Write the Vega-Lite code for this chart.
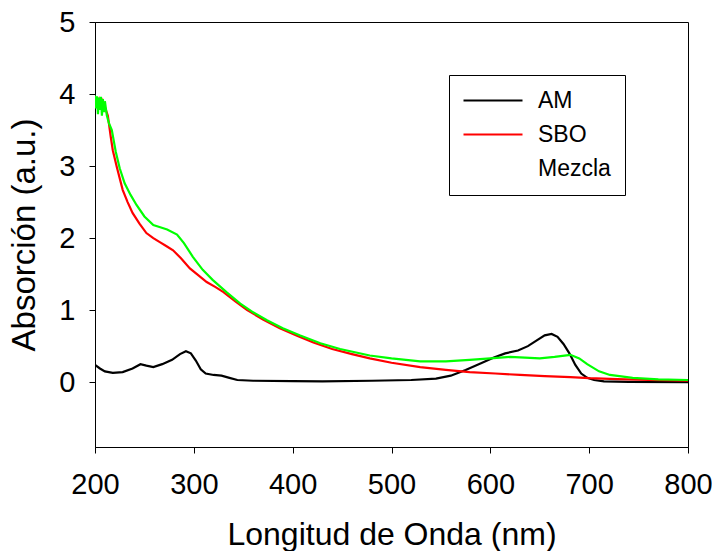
{
  "$schema": "https://vega.github.io/schema/vega-lite/v6.json",
  "width": 593,
  "height": 425,
  "autosize": {"type": "none"},
  "padding": {"left": 95, "top": 22, "right": 24, "bottom": 104},
  "background": "white",
  "config": {
    "view": {"stroke": "black", "strokeWidth": 1},
    "font": "Liberation Sans",
    "axis": {
      "grid": false,
      "domainColor": "black",
      "tickColor": "black",
      "tickSize": 6,
      "labelFont": "Liberation Sans",
      "labelFontSize": 29,
      "labelColor": "black",
      "titleFont": "Liberation Sans",
      "titleFontWeight": "normal",
      "titleColor": "black"
    }
  },
  "datasets": {
    "spectra": [
      {"serie": "AM", "lambda": 200, "abs": 0.24},
      {"serie": "AM", "lambda": 205, "abs": 0.19},
      {"serie": "AM", "lambda": 210, "abs": 0.15},
      {"serie": "AM", "lambda": 218, "abs": 0.13},
      {"serie": "AM", "lambda": 228, "abs": 0.14},
      {"serie": "AM", "lambda": 238, "abs": 0.19},
      {"serie": "AM", "lambda": 246, "abs": 0.25},
      {"serie": "AM", "lambda": 252, "abs": 0.23},
      {"serie": "AM", "lambda": 259, "abs": 0.21},
      {"serie": "AM", "lambda": 268, "abs": 0.25},
      {"serie": "AM", "lambda": 278, "abs": 0.31},
      {"serie": "AM", "lambda": 286, "abs": 0.39},
      {"serie": "AM", "lambda": 292, "abs": 0.43},
      {"serie": "AM", "lambda": 297, "abs": 0.40},
      {"serie": "AM", "lambda": 302, "abs": 0.30},
      {"serie": "AM", "lambda": 307, "abs": 0.18},
      {"serie": "AM", "lambda": 312, "abs": 0.12},
      {"serie": "AM", "lambda": 320, "abs": 0.10},
      {"serie": "AM", "lambda": 328, "abs": 0.09},
      {"serie": "AM", "lambda": 336, "abs": 0.06},
      {"serie": "AM", "lambda": 344, "abs": 0.03},
      {"serie": "AM", "lambda": 360, "abs": 0.02},
      {"serie": "AM", "lambda": 400, "abs": 0.015},
      {"serie": "AM", "lambda": 430, "abs": 0.01},
      {"serie": "AM", "lambda": 480, "abs": 0.02},
      {"serie": "AM", "lambda": 520, "abs": 0.03},
      {"serie": "AM", "lambda": 545, "abs": 0.05},
      {"serie": "AM", "lambda": 560, "abs": 0.09},
      {"serie": "AM", "lambda": 575, "abs": 0.17},
      {"serie": "AM", "lambda": 590, "abs": 0.26},
      {"serie": "AM", "lambda": 603, "abs": 0.34},
      {"serie": "AM", "lambda": 615, "abs": 0.40},
      {"serie": "AM", "lambda": 628, "abs": 0.44},
      {"serie": "AM", "lambda": 638, "abs": 0.50},
      {"serie": "AM", "lambda": 647, "abs": 0.58},
      {"serie": "AM", "lambda": 655, "abs": 0.65},
      {"serie": "AM", "lambda": 662, "abs": 0.67},
      {"serie": "AM", "lambda": 668, "abs": 0.63},
      {"serie": "AM", "lambda": 674, "abs": 0.53},
      {"serie": "AM", "lambda": 680, "abs": 0.40},
      {"serie": "AM", "lambda": 686, "abs": 0.24},
      {"serie": "AM", "lambda": 692, "abs": 0.12},
      {"serie": "AM", "lambda": 698, "abs": 0.06},
      {"serie": "AM", "lambda": 705, "abs": 0.03},
      {"serie": "AM", "lambda": 715, "abs": 0.01},
      {"serie": "AM", "lambda": 740, "abs": 0.005},
      {"serie": "AM", "lambda": 800, "abs": 0.0},
      {"serie": "SBO", "lambda": 200, "abs": 3.95},
      {"serie": "SBO", "lambda": 202, "abs": 3.85},
      {"serie": "SBO", "lambda": 204, "abs": 3.92},
      {"serie": "SBO", "lambda": 206, "abs": 3.8},
      {"serie": "SBO", "lambda": 208, "abs": 3.9},
      {"serie": "SBO", "lambda": 210, "abs": 3.82},
      {"serie": "SBO", "lambda": 213, "abs": 3.7},
      {"serie": "SBO", "lambda": 216, "abs": 3.4},
      {"serie": "SBO", "lambda": 218, "abs": 3.22},
      {"serie": "SBO", "lambda": 222, "abs": 2.99},
      {"serie": "SBO", "lambda": 228, "abs": 2.67},
      {"serie": "SBO", "lambda": 233, "abs": 2.5},
      {"serie": "SBO", "lambda": 238, "abs": 2.35},
      {"serie": "SBO", "lambda": 245, "abs": 2.2},
      {"serie": "SBO", "lambda": 252, "abs": 2.07},
      {"serie": "SBO", "lambda": 259, "abs": 2.0},
      {"serie": "SBO", "lambda": 266, "abs": 1.94},
      {"serie": "SBO", "lambda": 272, "abs": 1.89},
      {"serie": "SBO", "lambda": 279, "abs": 1.83},
      {"serie": "SBO", "lambda": 287, "abs": 1.72},
      {"serie": "SBO", "lambda": 296, "abs": 1.58},
      {"serie": "SBO", "lambda": 305, "abs": 1.48},
      {"serie": "SBO", "lambda": 313, "abs": 1.39},
      {"serie": "SBO", "lambda": 322, "abs": 1.32},
      {"serie": "SBO", "lambda": 330, "abs": 1.25},
      {"serie": "SBO", "lambda": 342, "abs": 1.12},
      {"serie": "SBO", "lambda": 354, "abs": 1.0},
      {"serie": "SBO", "lambda": 370, "abs": 0.87},
      {"serie": "SBO", "lambda": 387, "abs": 0.75},
      {"serie": "SBO", "lambda": 405, "abs": 0.64},
      {"serie": "SBO", "lambda": 421, "abs": 0.55},
      {"serie": "SBO", "lambda": 440, "abs": 0.46},
      {"serie": "SBO", "lambda": 460, "abs": 0.39},
      {"serie": "SBO", "lambda": 478, "abs": 0.33},
      {"serie": "SBO", "lambda": 500, "abs": 0.27},
      {"serie": "SBO", "lambda": 529, "abs": 0.21},
      {"serie": "SBO", "lambda": 555, "abs": 0.17},
      {"serie": "SBO", "lambda": 579, "abs": 0.14},
      {"serie": "SBO", "lambda": 605, "abs": 0.12},
      {"serie": "SBO", "lambda": 630, "abs": 0.10},
      {"serie": "SBO", "lambda": 655, "abs": 0.085},
      {"serie": "SBO", "lambda": 681, "abs": 0.07},
      {"serie": "SBO", "lambda": 700, "abs": 0.055},
      {"serie": "SBO", "lambda": 721, "abs": 0.045},
      {"serie": "SBO", "lambda": 760, "abs": 0.03},
      {"serie": "SBO", "lambda": 800, "abs": 0.02},
      {"serie": "Mezcla", "lambda": 200, "abs": 3.98},
      {"serie": "Mezcla", "lambda": 201, "abs": 3.8},
      {"serie": "Mezcla", "lambda": 202, "abs": 3.97},
      {"serie": "Mezcla", "lambda": 203, "abs": 3.72},
      {"serie": "Mezcla", "lambda": 204, "abs": 3.95},
      {"serie": "Mezcla", "lambda": 205, "abs": 3.78},
      {"serie": "Mezcla", "lambda": 206, "abs": 3.96},
      {"serie": "Mezcla", "lambda": 207, "abs": 3.7},
      {"serie": "Mezcla", "lambda": 208, "abs": 3.93},
      {"serie": "Mezcla", "lambda": 209, "abs": 3.75},
      {"serie": "Mezcla", "lambda": 210, "abs": 3.9},
      {"serie": "Mezcla", "lambda": 212, "abs": 3.7},
      {"serie": "Mezcla", "lambda": 214, "abs": 3.6},
      {"serie": "Mezcla", "lambda": 217, "abs": 3.5},
      {"serie": "Mezcla", "lambda": 221, "abs": 3.2},
      {"serie": "Mezcla", "lambda": 225, "abs": 2.97},
      {"serie": "Mezcla", "lambda": 230, "abs": 2.76},
      {"serie": "Mezcla", "lambda": 236, "abs": 2.6},
      {"serie": "Mezcla", "lambda": 242, "abs": 2.46},
      {"serie": "Mezcla", "lambda": 250, "abs": 2.3},
      {"serie": "Mezcla", "lambda": 259, "abs": 2.18},
      {"serie": "Mezcla", "lambda": 266, "abs": 2.15},
      {"serie": "Mezcla", "lambda": 273, "abs": 2.12},
      {"serie": "Mezcla", "lambda": 283, "abs": 2.05},
      {"serie": "Mezcla", "lambda": 290, "abs": 1.93},
      {"serie": "Mezcla", "lambda": 299, "abs": 1.74},
      {"serie": "Mezcla", "lambda": 309, "abs": 1.56},
      {"serie": "Mezcla", "lambda": 319, "abs": 1.42},
      {"serie": "Mezcla", "lambda": 333, "abs": 1.25},
      {"serie": "Mezcla", "lambda": 347, "abs": 1.09},
      {"serie": "Mezcla", "lambda": 360, "abs": 0.97},
      {"serie": "Mezcla", "lambda": 374, "abs": 0.86},
      {"serie": "Mezcla", "lambda": 390, "abs": 0.75},
      {"serie": "Mezcla", "lambda": 407, "abs": 0.65},
      {"serie": "Mezcla", "lambda": 428, "abs": 0.54},
      {"serie": "Mezcla", "lambda": 448, "abs": 0.46},
      {"serie": "Mezcla", "lambda": 478, "abs": 0.37},
      {"serie": "Mezcla", "lambda": 500, "abs": 0.33},
      {"serie": "Mezcla", "lambda": 529, "abs": 0.29},
      {"serie": "Mezcla", "lambda": 555, "abs": 0.29},
      {"serie": "Mezcla", "lambda": 579, "abs": 0.31},
      {"serie": "Mezcla", "lambda": 600, "abs": 0.33},
      {"serie": "Mezcla", "lambda": 620, "abs": 0.35},
      {"serie": "Mezcla", "lambda": 635, "abs": 0.34},
      {"serie": "Mezcla", "lambda": 650, "abs": 0.33},
      {"serie": "Mezcla", "lambda": 665, "abs": 0.35},
      {"serie": "Mezcla", "lambda": 681, "abs": 0.38},
      {"serie": "Mezcla", "lambda": 690, "abs": 0.33},
      {"serie": "Mezcla", "lambda": 698, "abs": 0.25},
      {"serie": "Mezcla", "lambda": 710, "abs": 0.15},
      {"serie": "Mezcla", "lambda": 721, "abs": 0.1},
      {"serie": "Mezcla", "lambda": 744, "abs": 0.06},
      {"serie": "Mezcla", "lambda": 770, "abs": 0.04},
      {"serie": "Mezcla", "lambda": 800, "abs": 0.03}
    ]
  },
  "data": {"name": "spectra"},
  "mark": {"type": "line", "strokeWidth": 2.2, "clip": true},
  "encoding": {
    "x": {
      "field": "lambda",
      "type": "quantitative",
      "scale": {"domain": [200, 800], "nice": false, "zero": false},
      "axis": {
        "values": [200, 300, 400, 500, 600, 700, 800],
        "title": "Longitud de Onda (nm)",
        "titleFontSize": 32,
        "labelPadding": 17,
        "titlePadding": 20,
        "labelFlush": false
      }
    },
    "y": {
      "field": "abs",
      "type": "quantitative",
      "scale": {"domain": [-0.9, 5], "nice": false, "zero": false},
      "axis": {
        "values": [0, 1, 2, 3, 4, 5],
        "title": "Absorción (a.u.)",
        "titleFontSize": 33,
        "labelPadding": 14,
        "titlePadding": 17,
        "labelFlush": false
      }
    },
    "color": {
      "field": "serie",
      "type": "nominal",
      "scale": {"domain": ["AM", "SBO", "Mezcla"], "range": ["#000000", "#ff0000", "#00ff00"]},
      "legend": {
        "title": null,
        "orient": "none",
        "legendX": 354,
        "legendY": 53,
        "strokeColor": "black",
        "fillColor": "white",
        "padding": 14,
        "symbolType": "M-1.1,0H4.8",
        "symbolSize": 400,
        "symbolStrokeWidth": 2,
        "labelFont": "Liberation Sans",
        "labelFontSize": 23,
        "labelColor": "black",
        "labelOffset": 52,
        "rowPadding": 10,
        "encode": {
          "symbols": {"update": {"opacity": {"signal": "datum.value === 'Mezcla' ? 0 : 1"}}}
        }
      }
    },
    "order": {"field": "lambda", "type": "quantitative"}
  }
}
